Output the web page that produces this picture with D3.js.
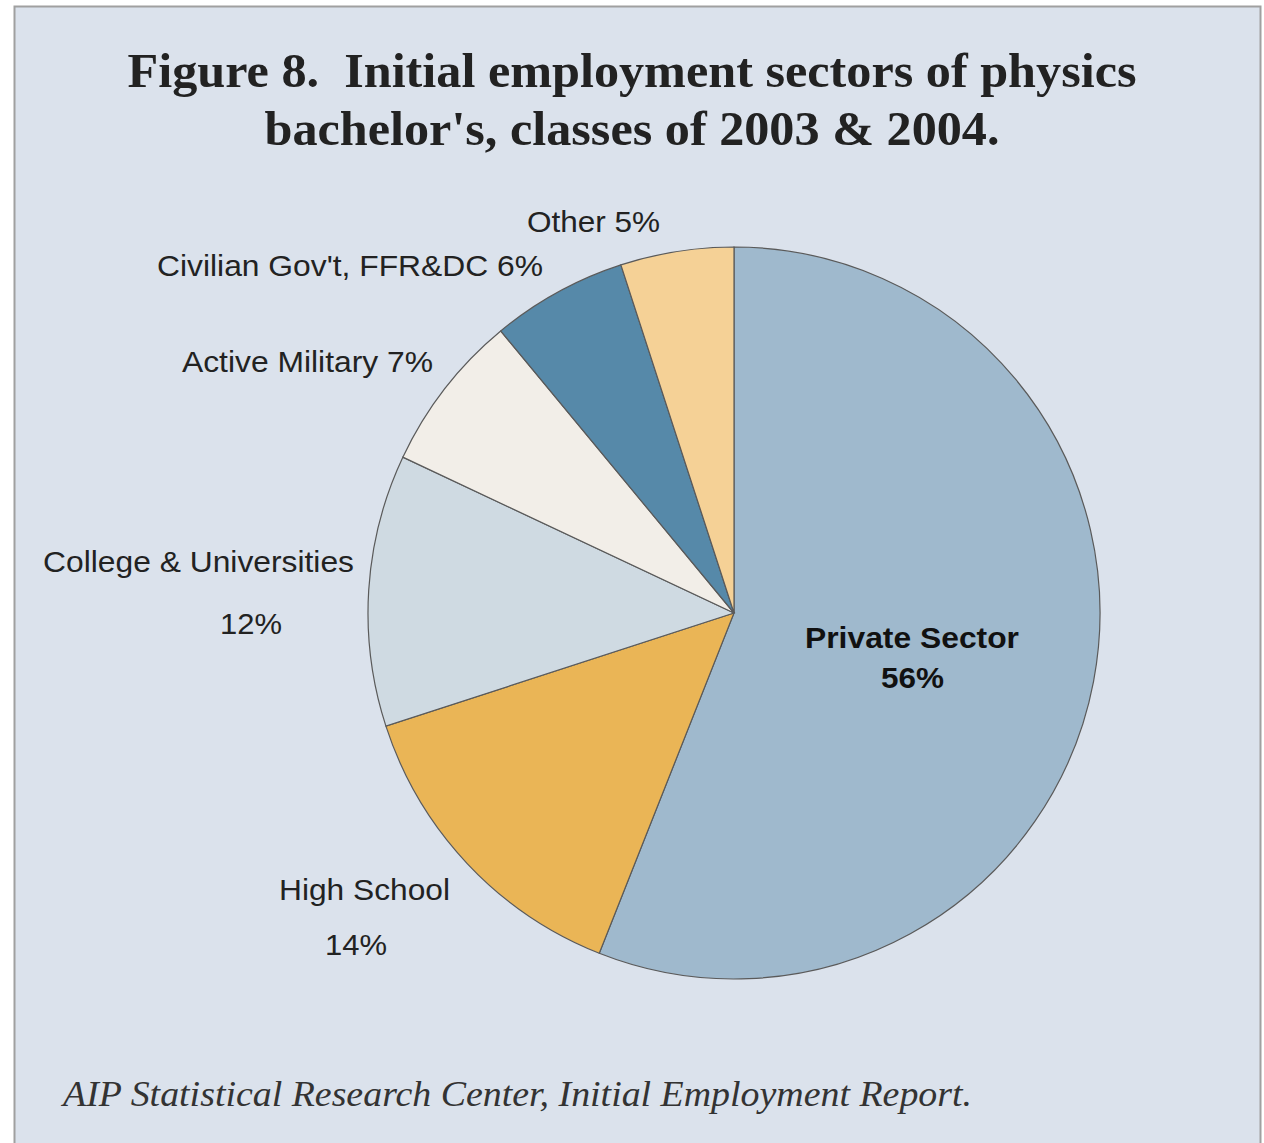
<!DOCTYPE html>
<html><head><meta charset="utf-8">
<script src="https://cdn.jsdelivr.net/npm/d3@7"></script>
<style>html,body{margin:0;padding:0;background:#fff;}svg{display:block;}text{white-space:pre;}</style>
</head><body>
<script>
const categories = ["Private Sector","High School","College & Universities","Active Military","Civilian Gov't, FFR&DC","Other"];
const values = [56,14,12,7,6,5];
const colors = ["#9fb9cd","#eab556","#cfdae2","#f2eee8","#5689a9","#f5d196"];
const titleLines = ["Figure 8.  Initial employment sectors of physics","bachelor's, classes of 2003 & 2004."];
const source = "AIP Statistical Research Center, Initial Employment Report.";

const W=1264,H=1143;
const svg=d3.select("body").append("svg").attr("width",W).attr("height",H);
svg.append("rect").attr("x",14.5).attr("y",6.5).attr("width",1246).attr("height",1150)
  .attr("fill","#dbe2ec").attr("stroke","#a0a0a0").attr("stroke-width",2);

const titleLen=[1009,735];
svg.selectAll("text.title").data(titleLines).join("text")
  .attr("x",632).attr("y",(d,i)=>87+i*58).attr("text-anchor","middle")
  .attr("font-family","Liberation Serif, Times New Roman, serif").attr("font-weight","bold")
  .attr("font-size",48).attr("fill","#222")
  .attr("textLength",(d,i)=>titleLen[i]).attr("lengthAdjust","spacingAndGlyphs")
  .text(d=>d);

const cx=734,cy=613,r=366;
const pie=d3.pie().sort(null).value(d=>d);
const arc=d3.arc().innerRadius(0).outerRadius(r);
const g=svg.append("g").attr("transform",`translate(${cx},${cy})`);
g.selectAll("path").data(pie(values)).join("path")
  .attr("d",arc).attr("fill",(d,i)=>colors[i]).attr("stroke","#5a5a5a").attr("stroke-width",1.2);

// label text lines: [text, left x, baseline y, width, bold]
const lab=[
 [categories[0],805,648,214,true],
 [values[0]+"%",881,688,63,true],
 [categories[1],279,900,171],
 [values[1]+"%",325,955,62],
 [categories[2],43,572,311],
 [values[2]+"%",220,634,62],
 [categories[3]+" "+values[3]+"%",182,372,251],
 [categories[4]+" "+values[4]+"%",157,276,386],
 [categories[5]+" "+values[5]+"%",527,232,133]
];
lab.forEach(l=>{
  svg.append("text").attr("x",l[1]).attr("y",l[2])
    .attr("font-family","Liberation Sans, Arial, sans-serif")
    .attr("font-weight",l[4]?"bold":"normal").attr("font-size",30)
    .attr("textLength",l[3]).attr("lengthAdjust","spacingAndGlyphs")
    .attr("fill",l[4]?"#111":"#222").text(l[0]);
});

svg.append("text").attr("x",63).attr("y",1106)
  .attr("font-family","Liberation Serif, Times New Roman, serif").attr("font-style","italic")
  .attr("font-size",36).attr("fill","#333").attr("textLength",909).attr("lengthAdjust","spacingAndGlyphs")
  .text(source);
</script>
</body></html>
